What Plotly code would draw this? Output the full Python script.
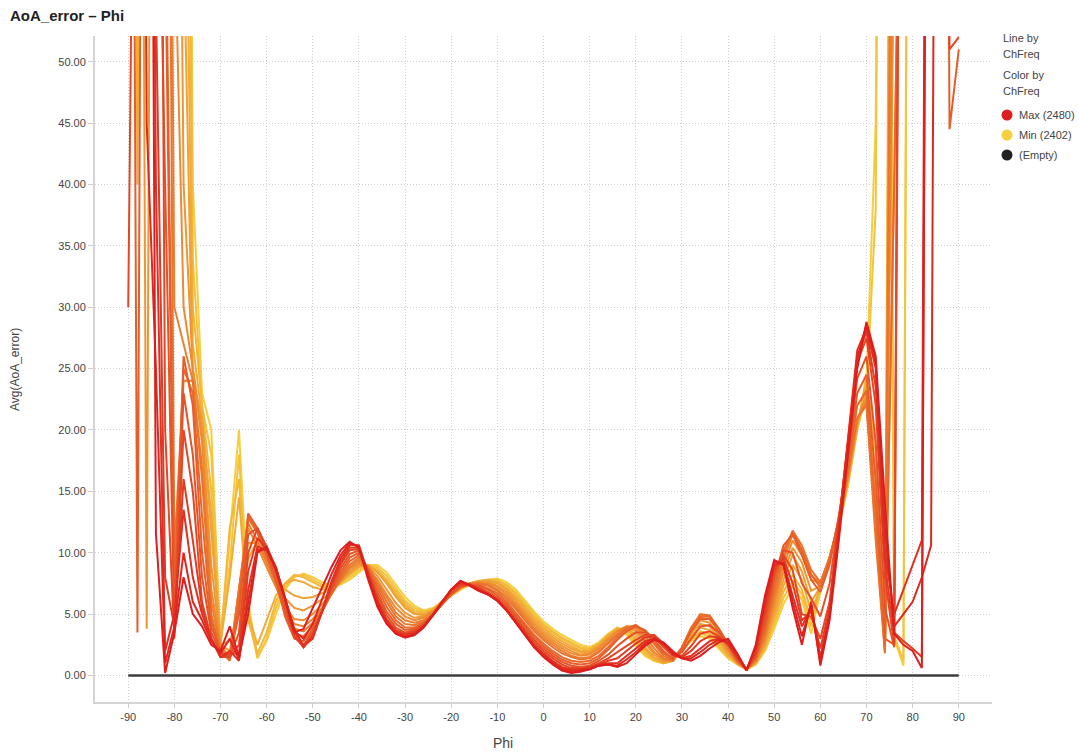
import plotly.graph_objects as go

# ---------------- data ----------------
phi = list(range(-90, 91, 2))
channels = [2402, 2407, 2412, 2417, 2422, 2427, 2432, 2437, 2442,
            2447, 2452, 2457, 2462, 2467, 2472, 2476, 2480]

aoa_2402 = [160, 175, 165, 180, 170, 175, 160, 40, 23, 20,
            2.5, 11, 20, 6, 1.5, 2.8, 5, 7, 8, 8.3,
            8, 7.6, 7.3, 7.4, 7.8, 8.4, 9.0, 9.0, 8.4, 7.4,
            6.4, 5.7, 5.3, 5.5, 6.0, 6.5, 7.0, 7.4, 7.6, 7.8,
            7.9, 7.6, 7.0, 6.1, 5.2, 4.4, 3.8, 3.3, 2.9, 2.5,
            2.3, 2.7, 3.4, 3.9, 3.3, 2.4, 1.6, 1.2, 1.0, 1.3,
            2.0, 2.8, 3.2, 3.0, 2.2, 1.4, 0.9, 0.5, 0.9, 2.0,
            3.8, 5.8, 7.2, 6.2, 3.4, 6.8, 9.5, 12.0, 15.5, 20.0,
            24, 45, 150, 3.0, 0.8, 160, 175, 170, 180, 165,
            170]
aoa_2407 = [170, 160, 175, 165, 180, 170, 150, 34, 22, 18,
            2.6, 9, 18, 5, 1.4, 3.0, 5.5, 7.2, 8.1, 8.2,
            7.8, 7.4, 7.2, 7.5, 8.0, 8.6, 9.0, 8.8, 8.1, 7.1,
            6.1, 5.5, 5.2, 5.4, 6.0, 6.5, 7.0, 7.4, 7.6, 7.8,
            7.8, 7.4, 6.8, 5.9, 5.0, 4.2, 3.6, 3.1, 2.7, 2.3,
            2.2, 2.6, 3.3, 3.9, 3.5, 2.6, 1.7, 1.2, 1.0, 1.2,
            2.0, 2.9, 3.4, 3.2, 2.3, 1.5, 0.9, 0.5, 0.9, 2.1,
            4.1, 6.3, 7.7, 6.6, 4.0, 6.9, 9.5, 12.1, 15.6, 20.0,
            23, 38, 160, 3.2, 1.2, 170, 160, 175, 165, 170,
            160]
aoa_2412 = [165, 180, 170, 175, 160, 170, 120, 30, 22, 15,
            2.8, 12, 16, 4.5, 1.8, 3.5, 6.0, 7.5, 8.2, 8.0,
            7.6, 7.2, 7.1, 7.6, 8.2, 8.8, 9.0, 8.6, 7.8, 6.8,
            5.9, 5.3, 5.1, 5.4, 6.0, 6.6, 7.1, 7.5, 7.7, 7.8,
            7.7, 7.3, 6.6, 5.7, 4.8, 4.1, 3.5, 3.0, 2.6, 2.2,
            2.1, 2.6, 3.3, 3.8, 3.6, 2.8, 1.9, 1.3, 1.0, 1.2,
            2.0, 3.0, 3.6, 3.4, 2.5, 1.6, 1.0, 0.6, 1.0, 2.3,
            4.5, 6.8, 8.2, 7.0, 4.5, 7.0, 9.6, 12.2, 15.8, 20.0,
            24.5, 18, 2.5, 120, 170, 160, 175, 165, 170, 160,
            175]
aoa_2417 = [175, 40, 170, 165, 175, 160, 80, 27, 21, 13,
            2.6, 8, 14.5, 5, 2.5, 4.5, 6.5, 7.5, 7.8, 7.6,
            7.2, 7.0, 7.0, 7.6, 8.3, 8.9, 9.0, 8.5, 7.6, 6.6,
            5.7, 5.1, 5.0, 5.3, 6.0, 6.6, 7.1, 7.5, 7.7, 7.8,
            7.6, 7.1, 6.4, 5.5, 4.6, 3.9, 3.3, 2.8, 2.4, 2.0,
            2.0, 2.5, 3.2, 3.8, 3.8, 3.0, 2.1, 1.4, 1.0, 1.2,
            2.1, 3.2, 3.9, 3.7, 2.8, 1.7, 1.0, 0.6, 1.0, 2.4,
            4.8, 7.3, 9.0, 7.8, 5.2, 7.1, 9.6, 12.3, 15.9, 20.3,
            24, 16, 2.3, 140, 165, 175, 160, 170, 175, 165,
            160]
aoa_2422 = [160, 175, 165, 180, 170, 150, 60, 24, 21, 12,
            2.5, 2.8, 5.0, 9.5, 11.0, 9.5, 8.0, 7.0, 6.5, 6.3,
            6.4, 6.7, 7.0, 7.6, 8.3, 8.9, 9.0, 8.4, 7.5, 6.4,
            5.5, 5.0, 4.9, 5.3, 6.0, 6.6, 7.1, 7.5, 7.7, 7.7,
            7.5, 7.0, 6.2, 5.3, 4.4, 3.7, 3.1, 2.6, 2.2, 1.9,
            1.9, 2.4, 3.1, 3.7, 3.9, 3.3, 2.3, 1.5, 1.1, 1.2,
            2.2, 3.4, 4.2, 4.0, 3.0, 1.8, 1.0, 0.6, 1.1, 2.6,
            5.2, 7.8, 9.8, 8.5, 6.0, 7.2, 9.6, 12.4, 16.0, 20.5,
            23.5, 14, 2.2, 90, 175, 165, 170, 160, 165, 175,
            170]
aoa_2427 = [170, 165, 3.8, 175, 165, 120, 40, 25, 20, 9,
            2.5, 2.0, 6.0, 10.8, 10.8, 9.2, 7.6, 6.3, 5.5, 5.3,
            5.7, 6.2, 6.8, 7.7, 8.5, 9.1, 8.9, 8.1, 7.0, 5.9,
            5.1, 4.7, 4.8, 5.2, 5.9, 6.6, 7.2, 7.5, 7.6, 7.6,
            7.3, 6.8, 6.0, 5.1, 4.2, 3.5, 2.9, 2.4, 2.0, 1.7,
            1.8, 2.3, 3.0, 3.6, 4.0, 3.6, 2.6, 1.7, 1.2, 1.2,
            2.2, 3.5, 4.5, 4.3, 3.2, 2.0, 1.0, 0.5, 1.1, 2.8,
            5.6, 8.4, 10.4, 9.2, 6.9, 7.3, 9.6, 12.4, 16.1, 20.6,
            23, 13, 2.1, 60, 160, 175, 165, 170, 160, 170,
            165]
aoa_2432 = [165, 170, 175, 165, 160, 62, 30, 25, 19, 7,
            2.5, 1.5, 7.0, 12.0, 10.5, 8.8, 7.2, 5.6, 4.6, 4.5,
            5.0, 5.8, 6.7, 7.8, 8.7, 9.2, 8.8, 7.8, 6.6, 5.5,
            4.8, 4.5, 4.7, 5.2, 5.9, 6.6, 7.2, 7.5, 7.6, 7.5,
            7.2, 6.6, 5.8, 4.9, 4.0, 3.3, 2.7, 2.2, 1.8, 1.6,
            1.7, 2.2, 2.9, 3.6, 4.0, 3.8, 2.9, 1.9, 1.3, 1.2,
            2.2, 3.7, 4.7, 4.6, 3.5, 2.1, 1.1, 0.5, 1.2, 3.0,
            6.0, 8.9, 11.0, 9.8, 7.8, 7.5, 9.6, 12.4, 16.2, 20.8,
            22.5, 12, 2.0, 40, 150, 170, 175, 160, 175, 165,
            170]
aoa_2437 = [175, 160, 180, 165, 140, 30, 27, 24, 17, 6,
            2.2, 1.3, 7.0, 12.4, 11.0, 9.2, 7.4, 5.4, 4.2, 4.0,
            4.6, 5.5, 6.6, 7.8, 8.8, 9.4, 8.8, 7.6, 6.3, 5.1,
            4.5, 4.3, 4.5, 5.1, 5.8, 6.6, 7.2, 7.5, 7.5, 7.4,
            7.0, 6.4, 5.6, 4.7, 3.8, 3.1, 2.5, 2.0, 1.6, 1.4,
            1.5, 2.0, 2.7, 3.4, 4.0, 4.0, 3.2, 2.2, 1.4, 1.2,
            2.2, 3.8, 4.9, 4.8, 3.6, 2.2, 1.1, 0.5, 1.2, 3.2,
            6.4, 9.4, 11.5, 10.2, 8.2, 7.5, 9.6, 12.5, 16.3, 20.9,
            22.2, 12, 1.9, 70, 165, 160, 170, 175, 165, 160,
            175]
aoa_2442 = [160, 170, 175, 165, 120, 10, 24, 24, 16, 5,
            2.0, 1.2, 7.0, 12.8, 11.6, 9.6, 7.6, 5.2, 3.8, 3.6,
            4.3, 5.3, 6.6, 7.9, 9.0, 9.6, 8.8, 7.4, 6.0, 4.8,
            4.2, 4.1, 4.4, 5.0, 5.8, 6.6, 7.2, 7.5, 7.5, 7.3,
            6.9, 6.2, 5.4, 4.5, 3.6, 2.9, 2.3, 1.8, 1.5, 1.3,
            1.4, 1.9, 2.6, 3.3, 3.9, 4.1, 3.5, 2.5, 1.6, 1.2,
            2.3, 3.9, 5.0, 4.9, 3.8, 2.4, 1.2, 0.5, 1.3, 3.5,
            6.8, 9.8, 11.8, 10.6, 8.6, 7.6, 9.6, 12.6, 16.5, 21.0,
            22, 11, 1.8, 100, 175, 165, 160, 170, 175, 165,
            170]
aoa_2447 = [170, 175, 160, 170, 66, 7, 25, 23, 13, 4.5,
            2.0, 1.3, 6.0, 13.0, 11.8, 9.8, 7.7, 5.0, 3.4, 3.2,
            4.0, 5.2, 6.7, 8.1, 9.3, 9.8, 8.7, 7.1, 5.6, 4.5,
            3.9, 3.9, 4.3, 4.9, 5.8, 6.6, 7.2, 7.4, 7.4, 7.1,
            6.7, 6.0, 5.1, 4.2, 3.3, 2.6, 2.0, 1.5, 1.2, 1.1,
            1.2, 1.6, 2.3, 3.1, 3.8, 4.1, 3.6, 2.7, 1.8, 1.3,
            2.2, 3.7, 4.8, 4.8, 3.8, 2.5, 1.2, 0.5, 1.4, 3.8,
            7.3, 10.2, 11.7, 10.2, 8.2, 7.2, 9.3, 12.8, 17.0, 22.0,
            23.2, 13.5, 2.4, 40, 160, 170, 175, 165, 160, 175,
            165]
aoa_2452 = [165, 3.5, 170, 160, 60, 5, 26, 22, 10, 4,
            2.0, 1.5, 5.0, 13.2, 12.0, 10.0, 7.8, 4.8, 3.0, 2.8,
            3.8, 5.2, 6.8, 8.4, 9.6, 10.0, 8.6, 6.8, 5.2, 4.2,
            3.7, 3.8, 4.2, 4.9, 5.8, 6.6, 7.2, 7.4, 7.3, 7.0,
            6.5, 5.8, 4.9, 4.0, 3.1, 2.4, 1.8, 1.3, 1.0, 0.9,
            1.0, 1.4, 2.1, 2.9, 3.6, 4.0, 3.7, 2.9, 2.0, 1.4,
            2.2, 3.6, 4.6, 4.6, 3.8, 2.6, 1.3, 0.5, 1.5, 4.2,
            7.8, 10.6, 11.5, 9.8, 7.8, 6.8, 9.0, 13.0, 17.5, 23.0,
            24.5, 16, 3.0, 2.5, 140, 165, 170, 175, 170, 44.5,
            51]
aoa_2457 = [175, 165, 170, 80, 40, 4, 23, 18, 8, 3.5,
            1.8, 1.5, 3.5, 11.5, 12.0, 10.2, 8.3, 5.4, 3.1, 2.5,
            3.6, 5.2, 7.0, 8.7, 9.9, 10.2, 8.4, 6.5, 4.9, 3.9,
            3.5, 3.7, 4.1, 4.9, 5.9, 6.7, 7.3, 7.4, 7.2, 6.8,
            6.3, 5.6, 4.7, 3.8, 2.9, 2.2, 1.6, 1.1, 0.8, 0.7,
            0.8, 1.2, 1.7, 2.4, 3.0, 3.5, 3.5, 3.1, 2.3, 1.6,
            1.9, 3.0, 4.0, 4.1, 3.5, 2.6, 1.3, 0.5, 1.6, 4.6,
            8.2, 10.2, 10.0, 7.5, 6.3, 4.8, 7.5, 12.8, 18.2, 24.2,
            26, 19, 5.5, 2.3, 120, 175, 165, 170, 160, 165,
            170]
aoa_2462 = [30, 160, 175, 150, 20, 3, 20, 15, 6, 3,
            1.5, 1.5, 2.5, 10.0, 12.0, 10.5, 8.8, 6.0, 3.2, 2.3,
            3.4, 5.2, 7.2, 9.0, 10.2, 10.3, 8.3, 6.2, 4.6, 3.7,
            3.4, 3.6, 4.1, 5.0, 6.0, 6.9, 7.4, 7.4, 7.1, 6.7,
            6.2, 5.4, 4.5, 3.6, 2.7, 2.0, 1.4, 0.9, 0.6, 0.6,
            0.7, 1.0, 1.4, 1.9, 2.4, 2.9, 3.3, 3.3, 2.6, 1.8,
            1.6, 2.4, 3.4, 3.6, 3.2, 2.5, 1.4, 0.5, 1.8, 5.0,
            8.5, 9.8, 8.6, 5.0, 4.8, 3.0, 6.0, 12.5, 19.0, 25.5,
            27.5, 22, 8.0, 2.5, 130, 160, 175, 165, 170, 51,
            52]
aoa_2467 = [170, 150, 165, 55, 8, 4, 16, 11, 5.5, 3,
            1.5, 1.8, 1.8, 8.5, 11.2, 10.3, 8.8, 6.2, 3.5, 2.3,
            3.2, 5.2, 7.4, 9.2, 10.4, 10.4, 8.3, 6.1, 4.5, 3.6,
            3.3, 3.5, 4.0, 4.9, 6.0, 6.9, 7.5, 7.4, 7.0, 6.6,
            6.1, 5.3, 4.4, 3.5, 2.5, 1.8, 1.2, 0.7, 0.5, 0.5,
            0.6, 0.9, 1.2, 1.4, 2.0, 2.6, 3.1, 3.2, 2.6, 1.8,
            1.5, 2.0, 2.8, 3.2, 3.1, 2.6, 1.5, 0.5, 2.0, 5.4,
            8.8, 9.5, 7.5, 4.5, 5.2, 2.2, 5.5, 12.2, 19.2, 26.0,
            28, 23.5, 9.0, 3.5, 2.8, 2.2, 1.5, 160, 175, 165,
            170]
aoa_2472 = [160, 175, 150, 40, 2, 5, 13.5, 8, 5, 3,
            1.5, 2.0, 1.2, 7.0, 10.5, 10.2, 8.8, 6.4, 3.8, 2.4,
            3.0, 5.2, 7.6, 9.5, 10.6, 10.6, 8.3, 6.0, 4.4, 3.5,
            3.2, 3.4, 4.0, 4.9, 6.0, 7.0, 7.6, 7.4, 7.0, 6.6,
            6.1, 5.3, 4.4, 3.4, 2.4, 1.7, 1.1, 0.6, 0.4, 0.5,
            0.6, 0.9, 1.0, 1.0, 1.6, 2.2, 2.8, 3.0, 2.5, 1.7,
            1.4, 1.6, 2.2, 2.8, 3.0, 2.6, 1.6, 0.5, 2.2, 5.8,
            9.0, 9.2, 6.5, 4.0, 5.5, 1.5, 5.0, 12.0, 19.5, 26.5,
            28.3, 25, 10, 5, 7, 9, 11, 170, 160, 175,
            165]
aoa_2476 = [175, 165, 45, 25, 1.0, 4, 10, 6, 4.5, 2.8,
            1.8, 3.0, 1.3, 6.0, 10.2, 10.3, 8.7, 6.3, 3.6, 3.0,
            4.2, 6.2, 8.2, 9.8, 10.8, 10.5, 8.0, 5.8, 4.3, 3.4,
            3.1, 3.3, 3.9, 4.9, 6.0, 7.0, 7.7, 7.4, 6.9, 6.6,
            6.1, 5.3, 4.3, 3.3, 2.3, 1.6, 1.0, 0.5, 0.3, 0.4,
            0.5, 0.8, 0.9, 0.8, 1.3, 1.9, 2.6, 3.0, 2.6, 1.8,
            1.4, 1.4, 1.9, 2.5, 2.9, 2.8, 1.7, 0.4, 2.3, 6.2,
            9.2, 9.1, 6.0, 3.2, 5.8, 1.1, 4.8, 11.5, 18.8, 25.8,
            28.6, 25.5, 12, 4, 5, 6, 8, 10.6, 175, 165,
            170]
aoa_2480 = [150, 170, 160, 11.6, 0.2, 3.5, 8, 5, 4, 2.5,
            2.0, 4.0, 1.5, 5.0, 10.0, 10.5, 8.6, 6.2, 3.5, 3.8,
            5.5, 7.2, 8.8, 10.2, 10.9, 10.4, 7.8, 5.6, 4.2, 3.4,
            3.1, 3.3, 3.9, 4.9, 6.0, 7.0, 7.7, 7.3, 6.9, 6.6,
            6.1, 5.3, 4.3, 3.3, 2.3, 1.5, 0.9, 0.4, 0.2, 0.3,
            0.5, 0.8, 0.9, 0.7, 1.0, 1.7, 2.4, 2.9, 2.7, 2.0,
            1.4, 1.2, 1.6, 2.2, 2.7, 3.0, 1.8, 0.4, 2.5, 6.5,
            9.4, 9.0, 5.5, 2.5, 6.0, 0.8, 4.5, 11.0, 18.0, 25.0,
            28.8, 26, 14, 3.4, 2.5, 2.0, 0.6, 160, 175, 170,
            165]

empty_phi = [-90, 90]
empty_vals = [0, 0]

x_ticks = list(range(-90, 91, 10))
y_ticks = list(range(0, 51, 5))

series = [aoa_2402, aoa_2407, aoa_2412, aoa_2417, aoa_2422, aoa_2427,
          aoa_2432, aoa_2437, aoa_2442, aoa_2447, aoa_2452, aoa_2457,
          aoa_2462, aoa_2467, aoa_2472, aoa_2476, aoa_2480]

# ---------------- style ----------------
W, H = 1079, 753
L, R, T, B = 95, 992, 36, 702
YEL = (246, 206, 62)
RED = (222, 30, 30)


def col(ch):
    f = (ch - channels[0]) / (channels[-1] - channels[0])
    c = [round(YEL[i] + (RED[i] - YEL[i]) * f) for i in range(3)]
    return "rgb(%d,%d,%d)" % tuple(c)


def px(xp):
    return (xp - L) / (R - L)


def py(yp):
    return (B - yp) / (B - T)


fig = go.Figure()
for ch, vals in zip(channels, series):
    fig.add_trace(go.Scatter(x=phi[:len(vals)], y=vals, mode="lines",
                             line=dict(color=col(ch), width=2),
                             name=str(ch), showlegend=False))
fig.add_trace(go.Scatter(x=empty_phi, y=empty_vals, mode="lines",
                         line=dict(color="#3c3c3c", width=2.5),
                         name="(Empty)", showlegend=False))

font_f = "Arial, Liberation Sans, sans-serif"
grid_c = "#cfcfcf"

fig.update_layout(
    width=W, height=H,
    margin=dict(l=L, r=W - R, t=T, b=H - B, pad=0),
    paper_bgcolor="white", plot_bgcolor="white",
    font=dict(family=font_f, size=11, color="#444"),
    showlegend=False,
)
fig.update_xaxes(range=[-97.2, 97.2], tickvals=x_ticks,
                 ticktext=[str(v) for v in x_ticks],
                 showgrid=True, gridcolor=grid_c, griddash="1px,2px", gridwidth=1,
                 zeroline=False, showline=True, linecolor="#d4d4d4", linewidth=2,
                 ticks="outside", ticklen=4, tickcolor=grid_c,
                 tickfont=dict(size=11, color="#444"))
fig.update_yaxes(range=[-2.16, 52.09], tickvals=y_ticks,
                 ticktext=["%.2f" % v for v in y_ticks],
                 showgrid=True, gridcolor=grid_c, griddash="1px,2px", gridwidth=1,
                 zeroline=False, showline=True, linecolor="#d4d4d4", linewidth=2,
                 ticks="outside", ticklen=5, tickcolor=grid_c,
                 tickfont=dict(size=11, color="#444"))

ann = []
ann.append(dict(text="<b>AoA_error – Phi</b>", x=px(8), y=py(15), xref="paper", yref="paper",
                xanchor="left", yanchor="middle", showarrow=False,
                font=dict(size=15, color="#222", family=font_f)))
ann.append(dict(text="Phi", x=px(503), y=py(743), xref="paper", yref="paper",
                xanchor="center", yanchor="middle", showarrow=False,
                font=dict(size=14, color="#444", family=font_f)))
ann.append(dict(text="Avg(AoA_error)", x=px(15), y=py(370), xref="paper", yref="paper",
                xanchor="center", yanchor="middle", showarrow=False, textangle=-90,
                font=dict(size=12, color="#444", family=font_f)))
for txt, yy in [("Line by", 38), ("ChFreq", 54), ("Color by", 75), ("ChFreq", 91)]:
    ann.append(dict(text=txt, x=px(1001), y=py(yy), xref="paper", yref="paper",
                    xanchor="left", yanchor="middle", showarrow=False,
                    font=dict(size=11, color="#444", family=font_f)))
legend_items = [("Max (2480)", 115, "rgb(222,30,30)"),
                ("Min (2402)", 135, "rgb(246,206,62)"),
                ("(Empty)", 155, "#222222")]
shapes = []
for txt, yy, c in legend_items:
    ann.append(dict(text=txt, x=px(1017), y=py(yy), xref="paper", yref="paper",
                    xanchor="left", yanchor="middle", showarrow=False,
                    font=dict(size=11, color="#444", family=font_f)))
    shapes.append(dict(type="circle", xref="paper", yref="paper",
                       x0=px(1001.5), x1=px(1012.5), y0=py(yy + 5.5), y1=py(yy - 5.5),
                       fillcolor=c, line=dict(width=0)))
fig.update_layout(annotations=ann, shapes=shapes)

fig.write_html("out.html",
               config={"displayModeBar": False},
               post_script="document.body.style.margin='0';"
                           "document.body.style.overflow='hidden';")
